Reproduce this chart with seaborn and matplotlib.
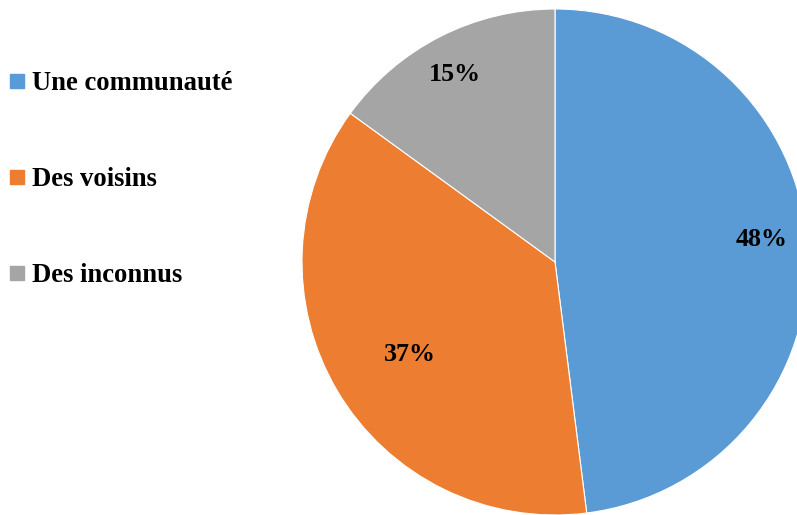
import matplotlib
matplotlib.use("Agg")
import matplotlib.pyplot as plt
import seaborn as sns
import numpy as np
from matplotlib.lines import Line2D

sns.set_theme(style="white")
plt.rcParams['font.family'] = ['Liberation Serif', 'DejaVu Serif']
plt.rcParams['text.color'] = 'black'

categories = ["Une communauté", "Des voisins", "Des inconnus"]
values = [48, 37, 15]
labels_pct = ["48%", "37%", "15%"]
colors = ["#5B9BD5", "#ED7D31", "#A5A5A5"]

W, H = 797, 515
fig = plt.figure(figsize=(W / 100, H / 100), dpi=100)
cx, cy, r = 555, 262, 253
ax = fig.add_axes([(cx - r) / W, (H - cy - r) / H, 2 * r / W, 2 * r / H])
wedges, _ = ax.pie(values, colors=colors, startangle=90, counterclock=False,
                   wedgeprops=dict(edgecolor="white", linewidth=0.8))
ax.set_xlim(-1, 1)
ax.set_ylim(-1, 1)
ax.set_aspect("auto")
ax.axis("off")

dists = [0.82, 0.68, 0.84]
offsets = [2.5, 2.0, 1.0]
for w, lab, d, off in zip(wedges, labels_pct, dists, offsets):
    th = np.deg2rad((w.theta1 + w.theta2) / 2 + off)
    ax.text(d * np.cos(th), d * np.sin(th), lab, ha="center", va="center",
            fontsize=18.7, fontweight="bold", color="black")

handles = [Line2D([0], [0], marker="s", linestyle="none", markersize=10,
                  markerfacecolor=c, markeredgecolor=c) for c in colors]
leg = fig.legend(handles, categories, loc="upper left",
                 bbox_to_anchor=(1 / W, 1 - 63 / H), frameon=False,
                 prop=dict(size=19.2, weight="bold"), labelspacing=2.66,
                 handlelength=0.6, handletextpad=0.25, borderaxespad=0,
                 borderpad=0.3, labelcolor="black")

fig.savefig("out.png", dpi=100)
